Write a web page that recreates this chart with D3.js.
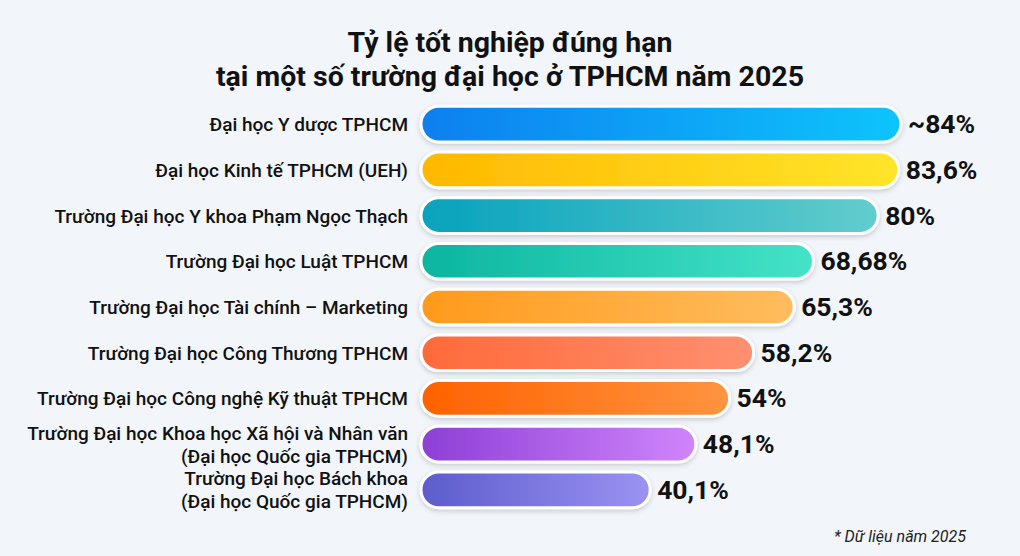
<!DOCTYPE html>
<html><head><meta charset="utf-8">
<script src="https://cdn.jsdelivr.net/npm/d3@7"></script>
<style>
body{margin:0;background:#f2f6fb;font-family:Roboto,"Noto Sans",sans-serif;}
</style></head><body>
<svg id="chart" width="1020" height="556"></svg>
<script>
const schools = [
  ["Đại học Y dược TPHCM"],
  ["Đại học Kinh tế TPHCM (UEH)"],
  ["Trường Đại học Y khoa Phạm Ngọc Thạch"],
  ["Trường Đại học Luật TPHCM"],
  ["Trường Đại học Tài chính – Marketing"],
  ["Trường Đại học Công Thương TPHCM"],
  ["Trường Đại học Công nghệ Kỹ thuật TPHCM"],
  ["Trường Đại học Khoa học Xã hội và Nhân văn", "(Đại học Quốc gia TPHCM)"],
  ["Trường Đại học Bách khoa", "(Đại học Quốc gia TPHCM)"]
];
const rates = [84, 83.6, 80, 68.68, 65.3, 58.2, 54, 48.1, 40.1];
const rateLabels = ["~84%", "83,6%", "80%", "68,68%", "65,3%", "58,2%", "54%", "48,1%", "40,1%"];
const colors = [
  ["#0a7ff0", "#08c4fb"], ["#ffb800", "#ffe52a"], ["#06a2bd", "#62cdcd"],
  ["#0bb5a0", "#44e3c7"], ["#ff9a1c", "#ffbd5e"], ["#ff6a3a", "#ff9070"],
  ["#ff6200", "#ff9440"], ["#8d3fd6", "#cf85fb"], ["#5c5ccc", "#9b93f3"]
];

const svg = d3.select("#chart");
const x = d3.scaleLinear().domain([0, 84]).range([421, 901]);
const y = d3.scaleBand().domain(d3.range(rates.length)).range([104, 510]).paddingInner(0.22).paddingOuter(0.05);
const bh = y.bandwidth();

const defs = svg.append("defs");
const f = defs.append("filter").attr("id", "sh").attr("x", "-10%").attr("y", "-40%").attr("width", "120%").attr("height", "180%");
f.append("feDropShadow").attr("dx", 0).attr("dy", 2).attr("stdDeviation", 2.5).attr("flood-color", "#000").attr("flood-opacity", 0.18);
colors.forEach((c, i) => {
  const g = defs.append("linearGradient").attr("id", "g" + i);
  g.append("stop").attr("offset", "0%").attr("stop-color", c[0]);
  g.append("stop").attr("offset", "100%").attr("stop-color", c[1]);
});

svg.append("text").attr("x", 510).attr("y", 52).attr("text-anchor", "middle")
  .attr("font-size", 28.5).attr("font-weight", 700).attr("fill", "#111").text("Tỷ lệ tốt nghiệp đúng hạn");
svg.append("text").attr("x", 510).attr("y", 86).attr("text-anchor", "middle")
  .attr("font-size", 28.5).attr("font-weight", 700).attr("fill", "#111").text("tại một số trường đại học ở TPHCM năm 2025");

const rows = svg.selectAll("g.row").data(rates).join("g").attr("class", "row");
rows.append("rect")
  .attr("x", x(0)).attr("y", (d, i) => y(i))
  .attr("width", d => x(d) - x(0)).attr("height", bh)
  .attr("rx", bh / 2).attr("fill", (d, i) => `url(#g${i})`)
  .attr("stroke", "#fff").attr("stroke-width", 3).attr("filter", "url(#sh)");
rows.append("text")
  .attr("x", d => x(d) + 7).attr("y", (d, i) => y(i) + bh / 2 + 9)
  .attr("font-size", 26.5).attr("font-weight", 700).attr("fill", "#111")
  .text((d, i) => rateLabels[i]);
rows.each(function (d, i) {
  const lines = schools[i];
  const t = d3.select(this).append("text").attr("x", 408).attr("text-anchor", "end")
    .attr("font-size", 19).attr("font-weight", 500).attr("fill", "#111");
  lines.forEach((l, j) => {
    t.append("tspan").attr("x", 408)
      .attr("y", y(i) + bh / 2 + 7 + (j - (lines.length - 1) / 2) * 23).text(l);
  });
});

svg.append("text").attr("x", 966).attr("y", 542).attr("text-anchor", "end")
  .attr("font-size", 16).attr("font-style", "italic").attr("fill", "#222").text("* Dữ liệu năm 2025");
</script>
</body></html>
